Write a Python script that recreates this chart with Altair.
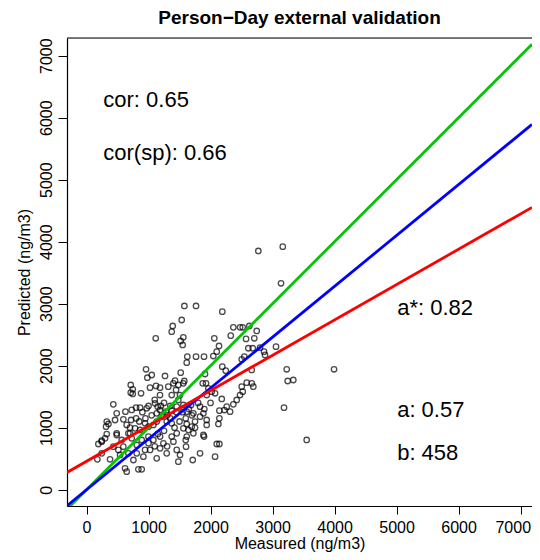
import altair as alt
import pandas as pd

# Measured (x) and Predicted (y) values, ng/m3
measured = [3165, 2771, 3137, 1578, 1766, 2190, 1535, 1390, 1374, 1116, 1561, 1519, 1551, 2061,
            2368, 2476, 2519, 2626, 2326, 2573, 2745, 2706, 2137, 2100, 2045, 1895, 1766, 1626,
            1616, 2610, 2681, 2798, 2863, 2879, 3056, 2503, 2545, 2664, 3229, 3245, 3335, 3992,
            3185, 3551, 960, 981, 1052, 1266, 1519, 1427, 1577, 1911, 1874, 2190, 2245, 713,
            745, 713, 745, 879, 1024, 1121, 1185, 1319, 1400, 1481, 1561, 1444, 1374, 1508,
            1185, 1927, 1965, 2019, 1939, 2073, 2503, 2584, 2665, 2690, 2519, 2476, 2422, 2368,
            2315, 2261, 2223, 2181, 432,
            326, 353, 315, 487, 460, 627, 729, 718, 799, 863, 971, 1105, 1148, 1132, 1186, 1283,
            1374, 1455, 1481, 1562, 1616, 1686, 1723, 1831, 1885, 1938, 2143, 2143, 2127, 1938,
            1831, 1750, 1697, 1616, 1562, 1643, 1723, 1455, 1374, 1293, 1213, 1132, 1078, 998,
            944, 863, 783, 702, 648, 594,
            191, 245, 299, 175, 379, 514, 541, 594, 675, 621, 648, 836, 890, 756, 810, 917,
            1025, 1132, 1186, 1240, 1293, 1374, 1401, 1455, 1481, 1508, 1605, 1616, 1713, 1831,
            1885, 1895, 2073, 2100, 2143, 1186, 998, 1078, 890, 729, 810, 944, 675, 567, 433,
            487, 245, 245, 326, 487,
            1300, 1350, 1420, 1500, 1600, 1650, 1700, 1800, 1250, 1150, 1050, 950, 900, 850,
            1000, 1100, 1200, 1750, 1900, 2000, 1550, 1450, 1350, 1250, 800, 700, 1000, 1100,
            1300, 1600]
predicted = [3920, 3850, 3329, 2963, 2963, 2871, 2737, 2640, 2548, 2442, 2458, 2398, 2334, 2442,
             2619, 2619, 2619, 2640, 2484, 2431, 2560, 2442, 2318, 2226, 2156, 2145, 2145, 2145,
             2048, 2281, 2281, 2290, 2226, 2173, 2306, 2103, 2145, 1931, 1942, 1753, 1769, 1942,
             1323, 802, 1942, 1806, 1850, 1834, 1887, 1758, 1753, 1866, 1716, 1984, 1919, 1689,
             1619, 1565, 1544, 1555, 1645, 1673, 1645, 1661, 1716, 1689, 1716, 1608, 1527, 1527,
             1527, 1716, 1635, 1581, 1527, 1555, 1661, 1726, 1716, 1661, 1581, 1527, 1447, 1377,
             1258, 1339, 1285, 1463, 1377,
             1098, 1060, 1017, 1232, 1124, 1259, 1286, 1124, 1323, 1323, 1313, 1393, 1339, 1232,
             1286, 1259, 1275, 1339, 1447, 1366, 1259, 1366, 1232, 1339, 1232, 1124, 1275, 1151,
             1060, 1044, 1178, 1098, 1017, 1060, 990, 963, 909, 909, 1071, 1098, 1178, 1098,
             1044, 1017, 1071, 963, 990, 909, 1044, 1135,
             737, 791, 829, 490, 490, 641, 560, 694, 909, 345, 291, 329, 329, 479, 587, 533,
             641, 506, 667, 748, 587, 856, 775, 641, 452, 560, 694, 856, 479, 587, 882, 856,
             533, 737, 737, 856, 856, 802, 802, 829, 721, 641, 587, 802, 694, 909, 587, 774,
             898, 882,
             1200, 1150, 1000, 1100, 1150, 1300, 1200, 1400, 950, 900, 1200, 1150, 1250, 1100,
             1350, 1450, 1350, 1000, 1300, 1400, 1250, 1250, 1350, 1400, 1150, 1000, 750, 700,
             700, 800]

# Fitted lines: y = intercept + slope * x
line_names = ["1:1", "through origin", "regression"]
line_slopes = [1.0, 0.82, 0.57]
line_intercepts = [0.0, 0.0, 458.0]
line_colors = ["#00C800", "#0000FF", "#FF0000"]

# Annotation texts and their data positions
note_texts = ["cor: 0.65", "cor(sp): 0.66", "a*: 0.82", "a: 0.57", "b: 458"]
note_x = [270, 270, 5010, 5010, 5010]
note_y = [6290, 5430, 2930, 1290, 590]

x_min, x_max = -315, 7185
y_min, y_max = -263, 7285
ticks = [0, 1000, 2000, 3000, 4000, 5000, 6000, 7000]

pts = pd.DataFrame({"Measured": measured, "Predicted": predicted})

rows = []
for n, s, b, c in zip(line_names, line_slopes, line_intercepts, line_colors):
    for xv in (x_min, x_max):
        rows.append({"name": n, "x": xv, "y": b + s * xv, "color": c})
lines = pd.DataFrame(rows)

notes = pd.DataFrame({"t": note_texts, "x": note_x, "y": note_y})
frame_top = pd.DataFrame({"x": [x_min], "x2": [x_max], "y": [y_max]})

FONT = "Liberation Sans"

xs = alt.Scale(domain=[x_min, x_max], nice=False, zero=False)
ys = alt.Scale(domain=[y_min, y_max], nice=False, zero=False)

xaxis = alt.Axis(values=ticks, format="d", title="Measured (ng/m3)", grid=False, domain=True,
                 domainColor="black", domainWidth=1.2,
                 tickColor="black", tickSize=8, labelFontSize=16, labelColor="black",
                 labelFont=FONT, labelPadding=5, titleFont=FONT, titleFontSize=16,
                 titleFontWeight="normal", titleColor="black", titlePadding=0,
                 labelFlush=15, labelFlushOffset=10)
yaxis = alt.Axis(values=ticks, format="d", title="Predicted (ng/m3)", grid=False, domain=True,
                 domainColor="black", domainWidth=1.2,
                 tickColor="black", tickSize=9, labelFontSize=16, labelColor="black",
                 labelFont=FONT, labelAngle=270, labelAlign="center", labelBaseline="bottom",
                 labelPadding=4, titleFont=FONT, titleFontSize=16, titleFontWeight="normal",
                 titleColor="black", titlePadding=6, labelFlush=False)

scatter = alt.Chart(pts).mark_point(shape="circle", filled=False, color="black",
                                    size=30, strokeWidth=1.3, clip=True).encode(
    x=alt.X("Measured:Q", scale=xs, axis=xaxis),
    y=alt.Y("Predicted:Q", scale=ys, axis=yaxis),
)

line_layer = alt.Chart(lines).mark_line(strokeWidth=2.8, clip=True).encode(
    x=alt.X("x:Q", scale=xs),
    y=alt.Y("y:Q", scale=ys),
    detail="name:N",
    color=alt.Color("color:N", scale=None),
)

top_rule = alt.Chart(frame_top).mark_rule(color="black", strokeWidth=1.2).encode(
    x=alt.X("x:Q", scale=xs),
    x2="x2:Q",
    y=alt.Y("y:Q", scale=ys),
)

text_layer = alt.Chart(notes).mark_text(align="left", baseline="middle", fontSize=22,
                                        font=FONT, color="black").encode(
    x=alt.X("x:Q", scale=xs),
    y=alt.Y("y:Q", scale=ys),
    text="t:N",
)

chart = alt.layer(scatter, line_layer, top_rule, text_layer).properties(
    width=465, height=468,
    autosize=alt.AutoSizeParams(type="none"),
    padding={"left": 59, "top": 30, "right": 0, "bottom": 46},
    title=alt.TitleParams("Person\u2212Day external validation", font=FONT, fontSize=19,
                          fontWeight="bold", color="black", anchor="middle", offset=9),
).configure_view(stroke=None).configure(background="white")

chart.save("out.html", embed_options={"renderer": "svg", "actions": False})
